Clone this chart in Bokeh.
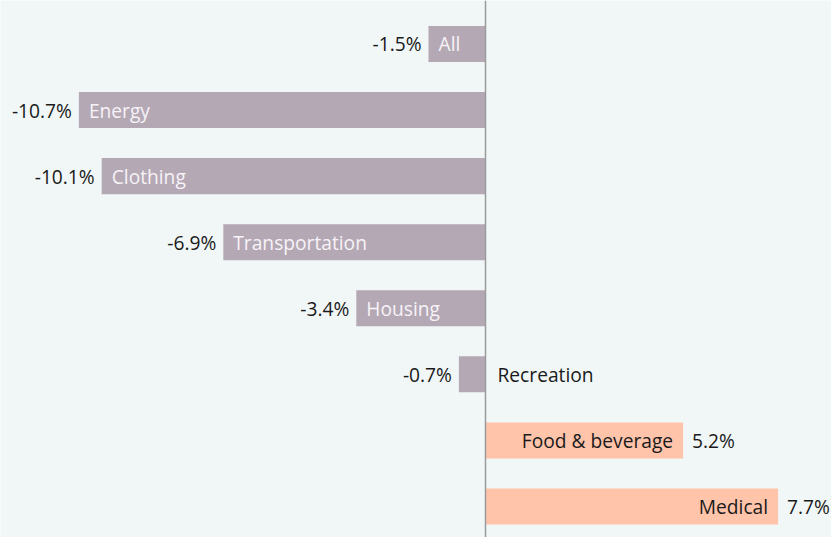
from bokeh.plotting import figure
from bokeh.models import Range1d, Span, ColumnDataSource
from bokeh.core.properties import value
from bokeh.embed import file_html
from bokeh.resources import INLINE

categories = ["All", "Energy", "Clothing", "Transportation", "Housing", "Recreation", "Food & beverage", "Medical"]
changes = [-1.5, -10.7, -10.1, -6.9, -3.4, -0.7, 5.2, 7.7]
value_labels = ["-1.5%", "-10.7%", "-10.1%", "-6.9%", "-3.4%", "-0.7%", "5.2%", "7.7%"]

NEG = "#b4a8b5"
POS = "#ffc4aa"
BG = "#f1f7f7"
FONT = "Open Sans"
FS = "19.2px"

W, H = 831, 537
AX = 485
PX = 38.0  # px per unit
x0 = -AX / PX
x1 = (W - AX) / PX
p = figure(width=W, height=H, output_backend="svg", toolbar_location=None,
           x_range=Range1d(x0, x1), y_range=Range1d(7.469, -0.658),
           min_border=0, background_fill_color=BG, border_fill_color=BG,
           outline_line_color=None)
p.xaxis.visible = False
p.yaxis.visible = False
p.xgrid.visible = False
p.ygrid.visible = False

ys = list(range(len(categories)))
colors = [NEG if v < 0 else POS for v in changes]
src = ColumnDataSource(dict(y=ys, v=changes, c=colors))
p.hbar(y="y", left=0, right="v", height=0.545, fill_color="c", line_color=None, source=src)

p.add_layout(Span(location=0, dimension="height", line_color="#9a9a9a", line_width=1.5))

# value labels
vx, vxo, va = [], [], []
for v in changes:
    vx.append(v)
    if v < 0:
        vxo.append(-7); va.append("right")
    else:
        vxo.append(9); va.append("left")
p.text(x=vx, y=ys, text=value_labels, x_offset=vxo, text_align=va, text_baseline="middle",
       text_font=value(FONT), text_font_size=FS, text_color="#1a1a1a")

# category labels
cx, cxo, ca, cc = [], [], [], []
for cat, v in zip(categories, changes):
    inside = abs(v) * PX > len(cat) * 9 + 20
    if v < 0:
        if inside:
            cx.append(v); cxo.append(10); ca.append("left"); cc.append("#f7f3f7")
        else:
            cx.append(0); cxo.append(12); ca.append("left"); cc.append("#1a1a1a")
    else:
        if inside:
            cx.append(v); cxo.append(-10); ca.append("right"); cc.append("#1a1a1a")
        else:
            cx.append(v); cxo.append(12); ca.append("left"); cc.append("#1a1a1a")
p.text(x=cx, y=ys, text=categories, x_offset=cxo, text_align=ca, text_baseline="middle",
       text_font=value(FONT), text_font_size=FS, text_color=cc)

open("out.html", "w").write(file_html(p, INLINE))
